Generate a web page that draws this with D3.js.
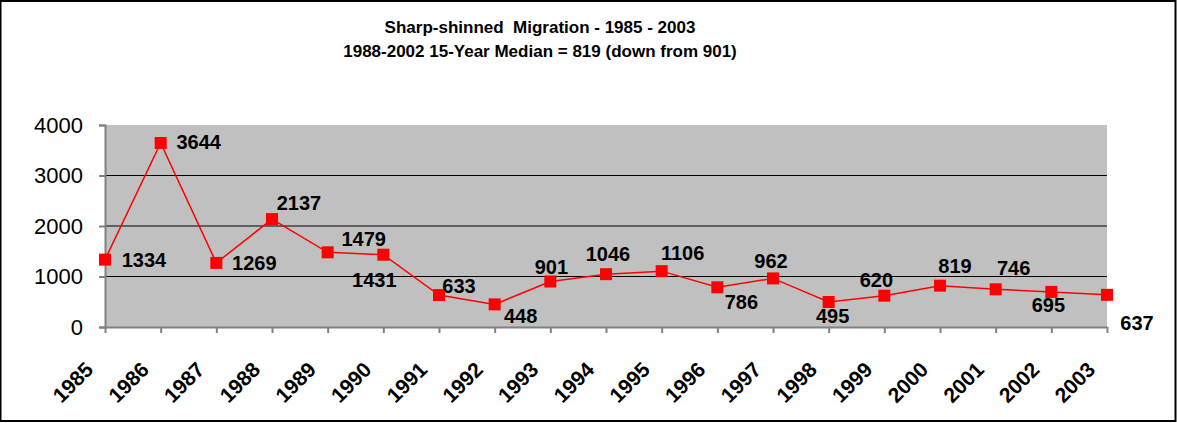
<!DOCTYPE html>
<html>
<head>
<meta charset="utf-8">
<script src="https://cdn.jsdelivr.net/npm/d3@7"></script>
<style>
  body { margin: 0; background: #fff; }
  svg { display: block; font-family: Arial, 'Liberation Sans', sans-serif; }
  .title { white-space: pre; }
</style>
</head>
<body>
<svg id="chart"></svg>
<script>
const years = ['1985', '1986', '1987', '1988', '1989', '1990', '1991', '1992', '1993', '1994',
  '1995', '1996', '1997', '1998', '1999', '2000', '2001', '2002', '2003'];
const counts = [1334, 3644, 1269, 2137, 1479, 1431, 633, 448, 901, 1046,
  1106, 786, 962, 495, 620, 819, 746, 695, 637];
const yTicks = [0, 1000, 2000, 3000, 4000];
const titleLines = ['Sharp-shinned  Migration - 1985 - 2003',
  '1988-2002 15-Year Median = 819 (down from 901)'];

// label offsets from the marker centre (hand placed in the original)
const labelOffsets = [
  [39, 0], [38, -1], [38, 0], [27, -16], [36, -13], [-9, 25], [20, -9], [26, 12],
  [1, -14], [2, -20], [21, -18], [24, 15], [-2, -17], [4, 14], [-8, -16], [15, -20],
  [18, -21], [-3, 13], [30, 28],
];

const W = 1177, H = 423;
const margin = { top: 125, right: 70, bottom: 96, left: 105 };
const width = W - margin.left - margin.right;
const height = H - margin.top - margin.bottom;

const svgEl = d3.select('#chart').attr('width', W).attr('height', H);

// outer frame
svgEl.append('rect')
  .attr('x', 0.5).attr('y', 1)
  .attr('width', 1175).attr('height', 420)
  .attr('fill', 'none')
  .attr('stroke', '#000')
  .attr('stroke-width', 2);

svgEl.append('g')
  .selectAll('text')
  .data(titleLines)
  .join('text')
  .attr('class', 'title')
  .attr('x', 540)
  .attr('y', (d, i) => 27 + i * 24)
  .attr('text-anchor', 'middle')
  .attr('dominant-baseline', 'central')
  .attr('font-size', 17)
  .attr('font-weight', 'bold')
  .text((d) => d);

const svg = svgEl.append('g')
  .attr('transform', `translate(${margin.left},${margin.top})`);

const x = d3.scalePoint().domain(years).range([0, width]);
const y = d3.scaleLinear().domain([0, 4000]).range([height, 0]);

svg.append('rect')
  .attr('width', width)
  .attr('height', height)
  .attr('fill', '#c0c0c0');

svg.append('g')
  .selectAll('line')
  .data(yTicks.filter((d) => d > 0 && d < 4000))
  .join('line')
  .attr('x1', 0)
  .attr('x2', width)
  .attr('y1', (d) => y(d))
  .attr('y2', (d) => y(d))
  .attr('stroke', '#000')
  .attr('stroke-width', 1);

const yAxis = svg.append('g')
  .call(d3.axisLeft(y).tickValues(yTicks).tickFormat(d3.format('d')).tickSize(6).tickPadding(16));
yAxis.select('.domain').attr('stroke', '#808080').attr('stroke-width', 2);
yAxis.selectAll('.tick line').attr('stroke', '#808080').attr('stroke-width', 2);
yAxis.selectAll('.tick text')
  .attr('font-size', 22)
  .attr('font-family', 'Arial, Liberation Sans, sans-serif')
  .attr('fill', '#000');

const xAxis = svg.append('g')
  .attr('transform', `translate(0,${height})`)
  .call(d3.axisBottom(x).tickSize(6).tickSizeOuter(0));
xAxis.select('.domain').attr('stroke', '#808080').attr('stroke-width', 2);
xAxis.selectAll('.tick line').attr('stroke', '#808080').attr('stroke-width', 2);
xAxis.selectAll('.tick text')
  .attr('font-size', 21)
  .attr('font-weight', 'bold')
  .attr('font-family', 'Arial, Liberation Sans, sans-serif')
  .attr('fill', '#000')
  .attr('text-anchor', 'end')
  .attr('dy', null)
  .attr('y', null)
  .attr('transform', 'translate(-11,44) rotate(-45)');

const line = d3.line()
  .x((d, i) => x(years[i]))
  .y((d) => y(d));

svg.append('path')
  .datum(counts)
  .attr('d', line)
  .attr('fill', 'none')
  .attr('stroke', '#ff0000')
  .attr('stroke-width', 1.5);

const size = 12;
svg.append('g')
  .selectAll('rect')
  .data(counts)
  .join('rect')
  .attr('x', (d, i) => x(years[i]) - size / 2)
  .attr('y', (d) => y(d) - size / 2)
  .attr('width', size)
  .attr('height', size)
  .attr('fill', '#ff0000');

svg.append('g')
  .selectAll('text')
  .data(counts)
  .join('text')
  .attr('x', (d, i) => x(years[i]) + labelOffsets[i][0])
  .attr('y', (d, i) => y(d) + labelOffsets[i][1])
  .attr('text-anchor', 'middle')
  .attr('dominant-baseline', 'central')
  .attr('font-size', 20)
  .attr('font-weight', 'bold')
  .text((d) => d);
</script>
</body>
</html>
